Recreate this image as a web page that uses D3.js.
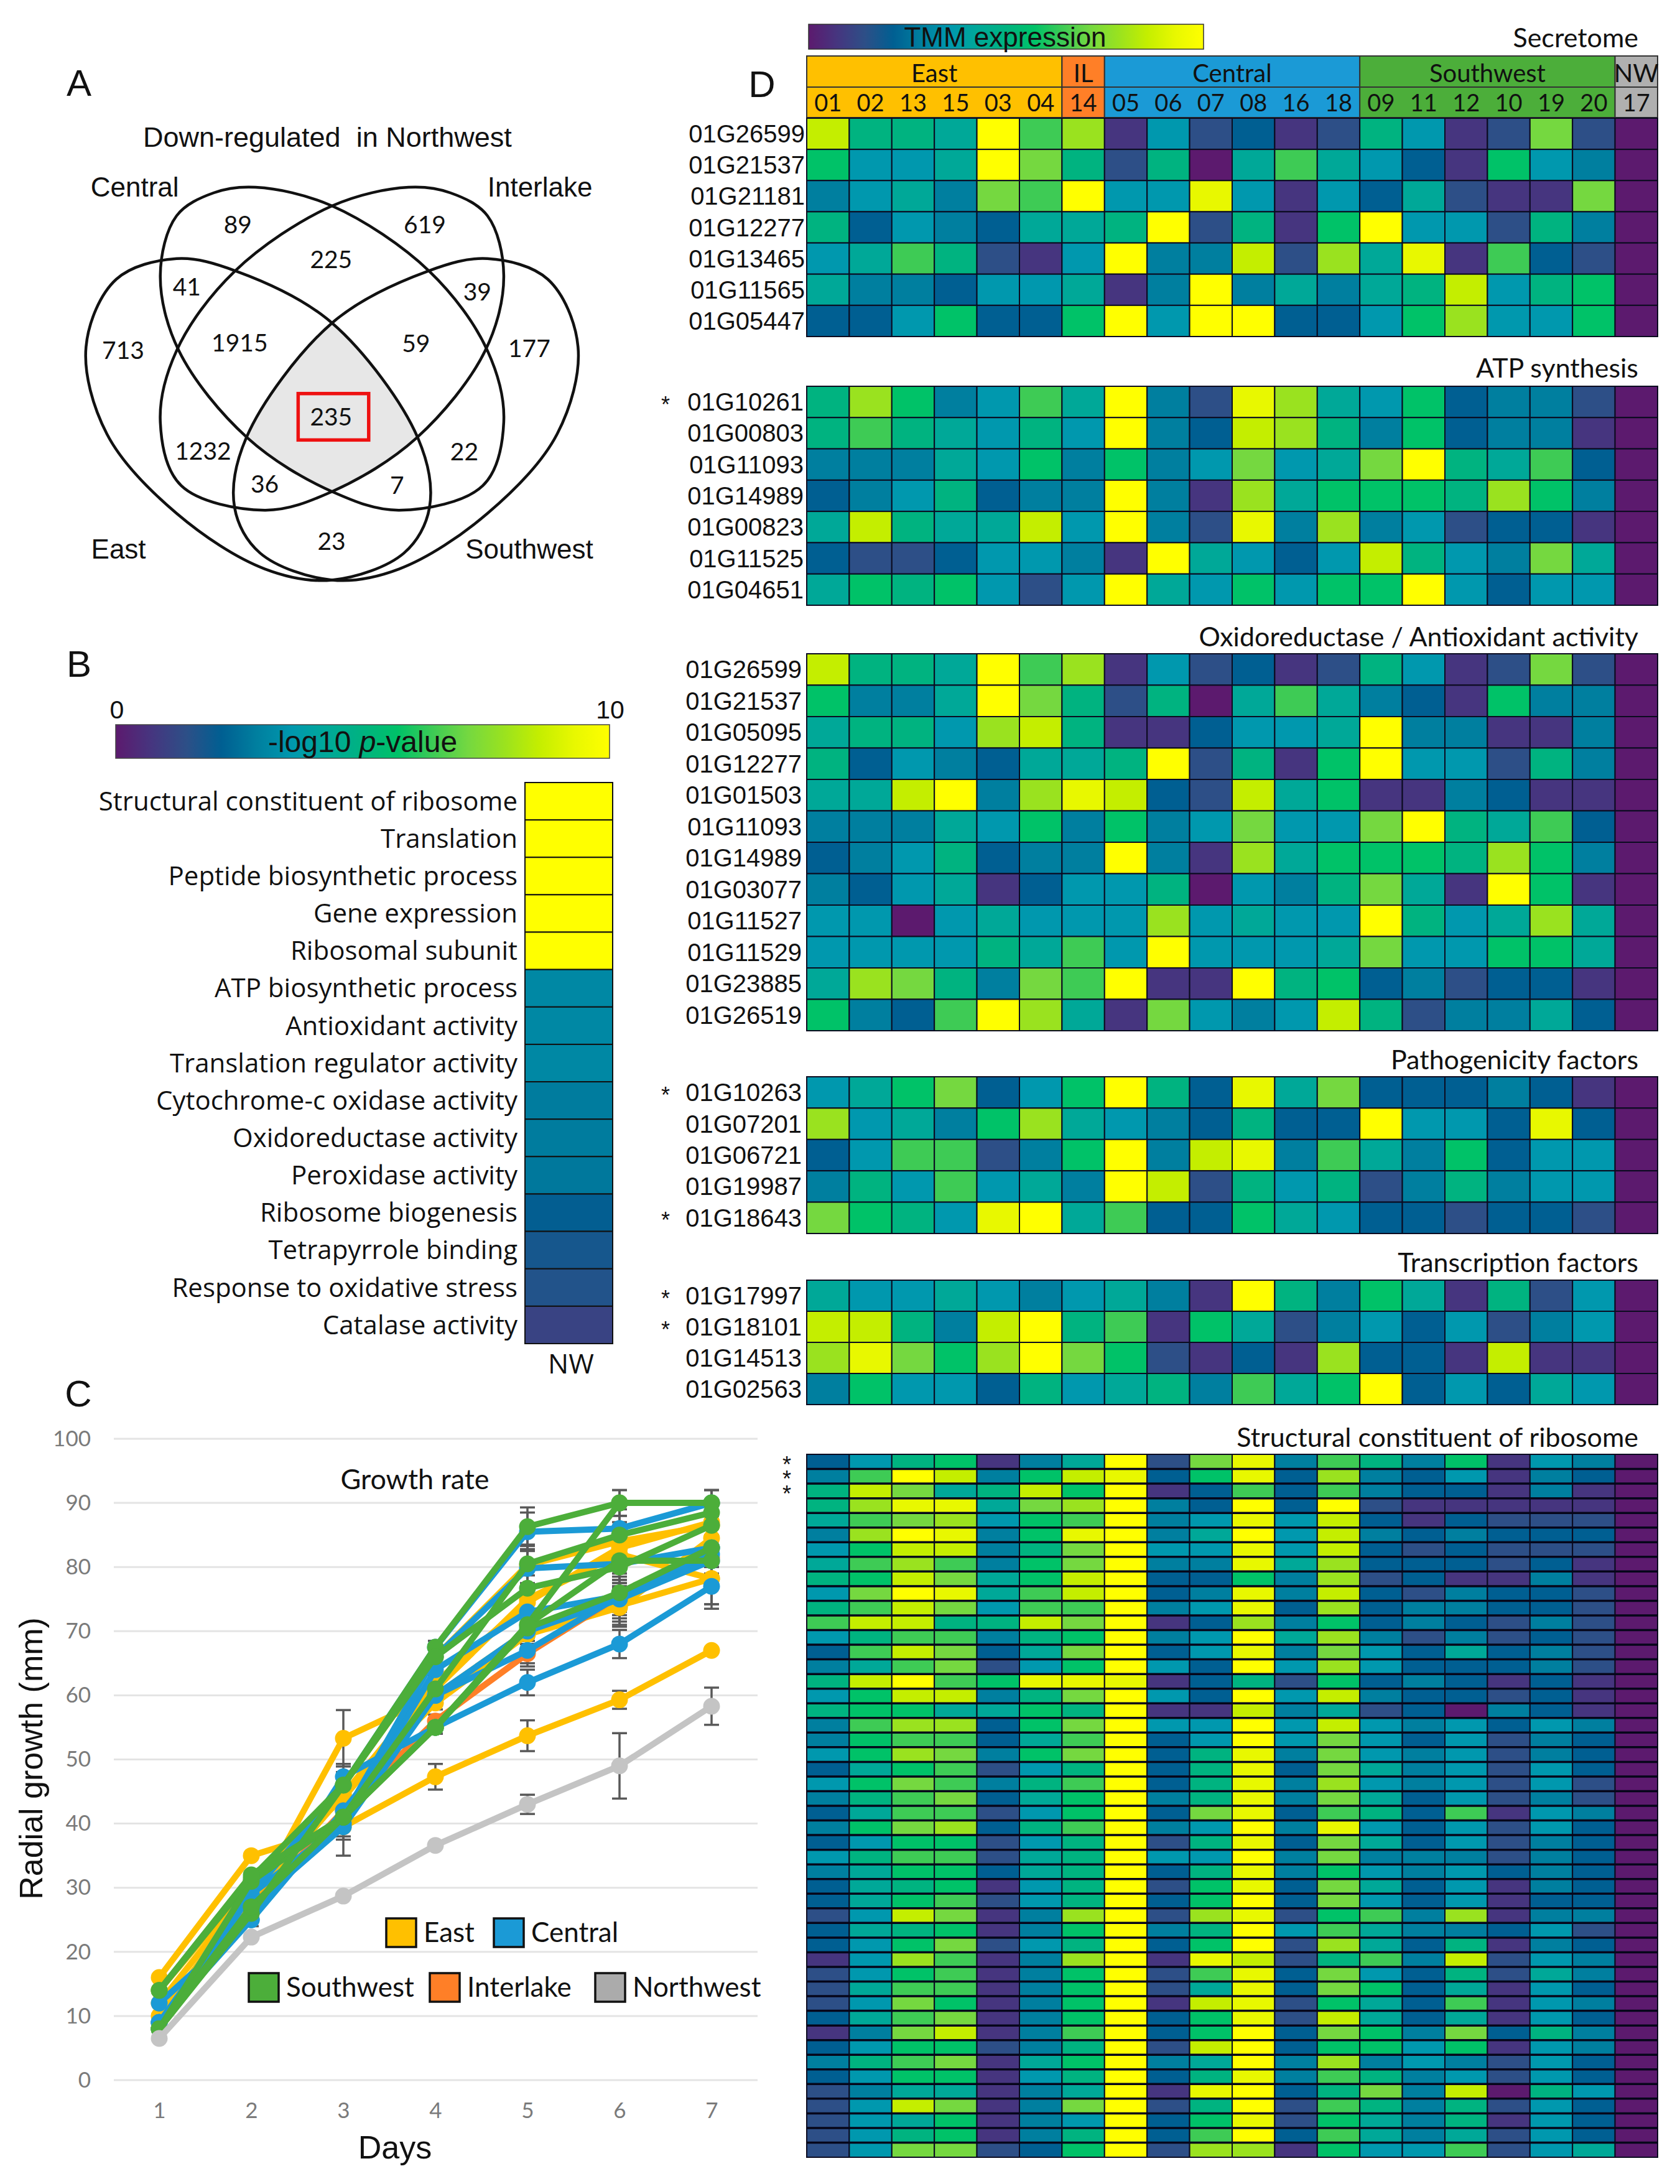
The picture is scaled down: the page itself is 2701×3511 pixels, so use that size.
<!DOCTYPE html>
<html>
<head>
<meta charset="utf-8">
<script src="https://cdn.jsdelivr.net/npm/d3@7"></script>
<style>
body { margin: 0; background: #fff; }
text { fill: #111; }
</style>
</head>
<body>
<svg id="fig" width="2701" height="3511"></svg>
<script>
// panel A
const vennCounts = ["89","619","225","41","39","1915","59","713","177","235","1232","22","36","7","23"];
const vennSets = ["Central","Interlake","East","Southwest"];

// panel B, -log10 p-value
const goTerms = ["Structural constituent of ribosome","Translation","Peptide biosynthetic process","Gene expression","Ribosomal subunit","ATP biosynthetic process","Antioxidant activity","Translation regulator activity","Cytochrome-c oxidase activity","Oxidoreductase activity","Peroxidase activity","Ribosome biogenesis","Tetrapyrrole binding","Response to oxidative stress","Catalase activity"];
const goPvalues = [10,10,10,10,10,3.1,3.1,3.1,2.8,2.8,2.7,2.1,1.8,1.6,1.1];

// panel C
const days = [1,2,3,4,5,6,7];
const yTicks = [0,10,20,30,40,50,60,70,80,90,100];
const east = [
  [16,35,39.5,47.3,53.7,59.3,67],
  [8,27,53.3,60,70,74,78.2],
  [9,28,44.5,58.8,69.5,73.7,84.5],
  [10,29,44.5,62,74.5,83,87],
  [12,30,46,66,80.3,84,86.5],
  [14,31,44,61,75,82,78.2]
];
const eastErr = [
  [0,0,4.5,2,2.4,1.4,0],
  [0,0,4.4,1,2,3,4],
  [0,0,2,1,2,3,4],
  [0,0,2,1,2,2,3],
  [0,0,2,1,3,3,2],
  [0,0,2,1,2,3,4]
];
const interlake = [[9,27,42,56,66.5,75.5,81.5]];
const interlakeErr = [[0,0,2,1,2,2,3]];
const central = [
  [12,25,47.3,55,62,68,77],
  [9,29,40,64,73,75.5,83],
  [9,27,39.5,60,67,75.5,82],
  [8,29,46,67.5,85.5,86,90],
  [8,31,41,66,79.8,80.5,83],
  [9,25,42,60,70,75,81]
];
const centralErr = [
  [0,1,2,1,2,2.2,3.5],
  [0,0,2,1,2,4,3],
  [0,0,2,1,2,3,3],
  [0,0,2,1,3,3,2],
  [0,0,2,1,3,3,3],
  [0,0,2,1,2,3,3]
];
const southwest = [
  [14,31.5,46,67.5,86.3,90,90],
  [8,31,41,61,80.5,85,88.5],
  [8,27,41,55,71,90,90],
  [14,32,41,55,71,81,81],
  [8,26,46,66,76.7,80,86.5],
  [8,27,41,55,70.5,76,83]
];
const southwestErr = [
  [0,0,2,1,3,2,2],
  [0,0,2,1,3,3,2],
  [0,0,2,1,2,2,2],
  [0,0,2,1,2,3,3],
  [0,0,2,1,2,3,3],
  [0,0,2,1,2,3,3]
];
const northwest = [[6.5,22.3,28.7,36.6,43,49,58.3]];
const northwestErr = [[0,0,0,0,1.5,5.1,2.9]];

// panel D, expression level 0 (lowest) to 14 (highest)
const strainIds = ["01","02","13","15","03","04","14","05","06","07","08","16","18","09","11","12","10","19","20","17"];
const regions = ["East","IL","Central","Southwest","NW"];
const regionSizes = [6,1,6,6,1];

const secretomeGenes = ["01G26599","01G21537","01G21181","01G12277","01G13465","01G11565","01G05447"];
const secretome = [
  [12,7,7,6,14,9,11,1,5,2,3,1,2,7,5,1,2,10,2,0],
  [8,5,5,6,14,10,7,2,7,0,6,9,6,5,3,1,8,5,4,0],
  [4,5,6,4,10,9,14,5,5,13,5,1,5,3,6,2,1,1,10,0],
  [7,3,5,4,3,6,6,7,14,2,7,1,8,14,5,5,2,7,4,0],
  [5,6,9,7,2,1,5,14,4,4,12,2,11,6,13,1,9,3,2,0],
  [6,4,4,3,5,5,6,1,4,14,4,6,4,6,7,12,5,7,8,0],
  [3,3,5,8,3,3,8,14,5,14,14,3,3,5,8,11,5,5,8,0]
];
const atpGenes = ["01G10261","01G00803","01G11093","01G14989","01G00823","01G11525","01G04651"];
const atp = [
  [7,11,8,4,5,9,6,14,4,2,13,11,6,5,8,3,4,4,2,0],
  [7,9,7,6,5,7,5,14,4,3,12,11,7,4,8,3,4,4,1,0],
  [4,4,4,6,5,8,4,8,4,5,10,5,6,10,14,7,6,9,3,0],
  [3,4,5,7,3,4,4,14,4,1,11,6,8,8,8,7,11,8,4,0],
  [6,12,7,6,6,12,5,14,4,2,13,4,11,4,5,2,3,3,1,0],
  [3,2,2,3,5,5,4,1,14,6,5,3,5,12,7,5,4,10,6,0],
  [6,8,7,8,5,2,5,14,6,5,8,5,8,8,14,5,3,5,5,0]
];
const oxidoGenes = ["01G26599","01G21537","01G05095","01G12277","01G01503","01G11093","01G14989","01G03077","01G11527","01G11529","01G23885","01G26519"];
const oxido = [
  [12,7,7,6,14,9,11,1,5,2,3,1,2,7,5,1,2,10,2,0],
  [8,4,4,6,14,10,7,2,7,0,6,9,6,4,3,1,8,4,4,0],
  [6,7,7,5,11,12,7,1,1,3,5,5,6,14,4,4,1,1,4,0],
  [7,3,5,4,3,6,6,7,14,2,7,1,8,14,5,5,2,7,4,0],
  [6,6,12,14,4,11,13,12,3,2,12,6,8,1,1,4,3,1,1,0],
  [4,4,4,6,5,8,4,8,4,5,10,5,5,10,14,7,6,9,3,0],
  [3,4,5,7,3,4,4,14,4,1,11,6,8,8,8,7,11,8,4,0],
  [4,3,5,6,1,3,5,5,7,0,5,4,7,10,6,1,14,8,1,0],
  [5,5,0,5,6,5,5,5,11,5,6,5,5,14,7,5,6,11,6,0],
  [5,5,5,5,7,6,9,5,14,5,5,5,6,10,5,5,8,8,6,0],
  [6,11,10,7,4,10,9,14,1,1,14,7,8,3,4,2,3,3,1,0],
  [8,4,3,9,14,11,6,1,10,5,4,5,12,7,2,4,4,6,3,0]
];
const pathoGenes = ["01G10263","01G07201","01G06721","01G19987","01G18643"];
const patho = [
  [5,6,8,10,3,5,8,14,7,3,13,6,10,3,3,3,4,3,1,0],
  [11,5,6,4,8,11,6,5,4,3,7,3,3,14,5,5,3,13,3,0],
  [3,5,9,9,2,4,8,14,4,12,13,4,9,6,4,8,3,5,5,0],
  [4,7,5,9,5,6,4,14,12,2,7,5,7,2,4,7,4,5,5,0],
  [10,8,7,5,13,14,6,9,3,3,8,6,5,3,3,2,3,3,2,0]
];
const tfGenes = ["01G17997","01G18101","01G14513","01G02563"];
const tf = [
  [6,5,5,6,5,4,5,6,4,1,14,7,4,8,6,1,7,2,5,0],
  [12,12,7,4,12,14,7,9,1,8,6,2,4,5,3,5,2,4,5,0],
  [11,13,10,8,11,14,10,8,2,1,3,1,11,3,3,1,12,1,1,0],
  [4,8,5,5,3,7,5,6,7,4,9,6,8,14,3,5,3,6,5,0]
];
const starredGenes = ["01G10261","01G10263","01G18643","01G17997","01G18101"];
const ribosome = [
  [3,5,7,8,1,4,6,14,2,10,13,4,9,7,4,8,1,5,4,0],
  [4,9,14,12,4,8,12,13,3,8,13,3,11,4,3,5,1,4,3,0],
  [7,12,10,6,7,12,8,14,1,3,9,3,9,4,3,3,1,4,1,0],
  [7,11,13,13,6,10,11,14,4,3,14,3,14,2,1,1,1,1,1,0],
  [6,9,10,11,5,8,9,14,4,5,13,5,12,3,1,3,2,2,2,0],
  [4,11,14,13,4,8,13,14,4,6,14,5,12,4,3,4,3,3,3,0],
  [5,8,12,12,4,7,10,14,5,5,13,5,12,3,2,3,2,2,2,0],
  [6,9,11,9,4,8,10,14,4,4,13,6,11,3,3,3,2,3,1,0],
  [7,8,12,10,6,8,12,14,3,3,8,4,11,2,3,1,1,4,1,0],
  [5,10,14,13,6,9,12,14,3,4,13,4,12,3,2,4,3,3,2,0],
  [7,9,12,10,5,9,9,14,4,5,13,3,11,3,4,4,3,3,2,0],
  [9,12,12,7,7,12,10,14,1,3,11,4,8,3,4,3,2,4,2,0],
  [5,7,9,9,4,7,8,14,4,5,14,6,11,4,2,4,2,3,2,0],
  [3,9,12,10,3,6,10,14,3,5,13,4,10,5,3,6,3,4,2,0],
  [4,6,9,10,2,5,8,14,5,3,14,5,11,5,3,3,3,4,2,0],
  [7,12,14,9,8,13,13,13,1,3,7,2,8,3,4,3,1,3,1,0],
  [5,8,12,12,4,7,10,14,5,3,14,5,12,4,3,3,2,3,1,0],
  [7,8,8,6,6,8,7,14,1,1,12,4,6,2,3,0,4,3,1,0],
  [4,9,11,11,3,8,10,14,5,5,14,5,12,5,4,5,3,5,4,0],
  [4,8,9,9,3,6,9,14,3,5,14,5,10,5,3,5,2,4,3,0],
  [5,8,11,10,4,8,10,14,3,7,13,4,10,5,4,5,2,4,3,0],
  [3,6,8,9,2,5,7,14,3,7,13,3,10,6,4,5,2,5,3,0],
  [5,8,10,9,4,7,9,14,3,7,13,4,11,5,4,5,2,5,2,0],
  [4,7,9,10,3,6,8,14,4,7,13,4,10,6,3,5,2,4,2,0],
  [3,6,9,9,2,5,8,14,3,10,13,3,9,7,3,9,1,5,4,0],
  [4,8,10,11,3,7,9,14,4,5,14,4,13,5,3,5,2,5,3,0],
  [3,5,8,8,2,5,7,14,2,7,13,3,10,6,3,5,2,4,3,0],
  [5,7,9,9,2,6,7,14,5,5,14,4,10,4,4,4,2,4,3,0],
  [4,6,8,8,3,6,7,14,3,7,13,4,8,5,4,5,3,4,3,0],
  [3,6,7,8,1,5,7,14,2,8,13,3,10,6,3,5,1,4,3,0],
  [3,6,8,9,2,5,7,14,3,8,14,3,10,5,3,5,1,3,3,0],
  [2,5,12,10,1,4,11,14,2,11,13,2,8,9,4,11,1,4,4,0],
  [3,6,7,8,1,4,8,14,4,7,14,5,9,6,4,4,3,5,2,0],
  [3,5,8,10,2,5,7,14,3,8,14,2,11,6,3,7,1,4,3,0],
  [1,5,11,9,1,4,11,14,1,13,12,2,7,9,4,12,2,5,4,0],
  [2,5,8,9,1,4,8,14,2,9,13,3,10,5,3,7,2,6,4,0],
  [2,6,9,9,1,4,8,14,2,6,13,3,10,8,3,6,1,5,3,0],
  [2,5,10,8,1,4,8,14,1,12,13,2,8,6,3,9,1,5,4,0],
  [3,6,9,10,1,4,8,14,3,8,13,2,12,6,3,6,1,5,3,0],
  [1,4,10,12,1,4,9,14,3,8,14,3,10,8,4,10,3,7,4,0],
  [3,5,8,8,2,4,7,14,2,12,14,3,8,8,5,8,1,5,4,0],
  [4,7,9,10,1,6,8,14,4,6,14,4,11,4,5,4,2,5,3,0],
  [3,5,8,8,1,5,7,14,3,7,13,4,9,7,4,5,2,5,3,0],
  [2,4,6,6,1,4,6,14,1,13,14,3,7,10,4,12,0,7,5,0],
  [2,5,12,10,1,4,10,14,2,7,14,2,9,7,4,7,2,5,3,0],
  [2,5,6,8,1,4,5,14,3,8,13,2,8,6,4,7,1,5,3,0],
  [2,5,7,8,1,4,7,14,3,9,14,3,9,6,4,6,2,5,3,0],
  [2,5,10,10,2,3,8,14,2,11,11,1,8,5,5,9,2,5,6,0]
];

const levelColors = ["#5c1a6e","#46357f","#2d4f87","#005f92","#007f9f","#0098ae","#00a898","#00b380","#00c268","#3ecb55","#75d840","#9ae21f","#c4ee00","#e8f800","#ffff00"];
const regionColors = {East:"#ffc000", IL:"#ff7f27", Central:"#1b9ad6", Southwest:"#4cae3a", NW:"#b0b0b0"};

const sansFont = "'Liberation Sans', Arial, sans-serif";
const labelFont = "'Open Sans', sans-serif";
const lightFont = "Lato, sans-serif";

const svg = d3.select("#fig");
const level = d3.scaleLinear().domain(d3.range(levelColors.length)).range(levelColors).clamp(true);

const defs = svg.append("defs");
const grad = defs.append("linearGradient").attr("id", "viridis");
grad.selectAll("stop").data(levelColors).join("stop")
    .attr("offset", (d, i) => i / (levelColors.length - 1))
    .attr("stop-color", d => d);

function label(g, x, y, txt, size, font, anchor) {
    return g.append("text")
        .attr("x", x).attr("y", y)
        .attr("dy", "0.35em")
        .attr("text-anchor", anchor || "middle")
        .style("font", `${size}px ${font}`)
        .text(txt);
}

["A","B","C","D"].forEach((p, i) => {
    const pos = [[127,133],[127,1067],[126,2240],[1225,135]][i];
    label(svg, pos[0], pos[1], p, 60, sansFont);
});

//---- A: venn, outlines in crop units mapped through two scales
const vx = d3.scaleLinear().domain([0,1568]).range([60,1230]);
const vy = d3.scaleLinear().domain([0,1568]).range([60,1060]);
const eastShape = [[105,780],[150,1000],[300,1200],[490,1340],[635,1368],[790,1300],[845,1185],[820,1010],[635,720],[430,590],[300,558],[170,610]];
const centralShape = [[470,378],[635,425],[845,590],[970,790],[1005,970],[960,1130],[780,1192],[635,1145],[453,1010],[305,790],[265,600],[300,450],[380,392]];
const mirror = s => s.map(p => [1270 - p[0], p[1]]);
const vennLine = d3.line().x(d => vx(d[0])).y(d => vy(d[1])).curve(d3.curveCatmullRomClosed.alpha(0.5));
const vennShapes = {Central: centralShape, Interlake: mirror(centralShape), East: eastShape, Southwest: mirror(eastShape)};

const venn = svg.append("g");
vennSets.forEach(s => {
    defs.append("clipPath").attr("id", "clip" + s).append("path").attr("d", vennLine(vennShapes[s]));
});
// the all-four region is the nesting of the four clips
let inner = venn;
vennSets.forEach(s => { inner = inner.append("g").attr("clip-path", `url(#clip${s})`); });
inner.append("rect").attr("x", vx(300)).attr("y", vy(600)).attr("width", vx(1000)-vx(300)).attr("height", vy(1300)-vy(600)).attr("fill", "#e7e7e7");
vennSets.forEach(s => {
    venn.append("path").attr("d", vennLine(vennShapes[s])).attr("fill", "none").attr("stroke", "#111").attr("stroke-width", 4.5);
});
const vennCountPos = [[432,473],[835,473],[633,560],[322,630],[948,642],[436,770],[816,772],[185,790],[1060,785],[633,957],[357,1043],[920,1045],[490,1127],[775,1130],[634,1270]];
vennCounts.forEach((c, i) => label(venn, vx(vennCountPos[i][0]), vy(vennCountPos[i][1]), c, 39, lightFont));
venn.append("rect").attr("x", vx(562)).attr("y", vy(898)).attr("width", vx(714)-vx(562)).attr("height", vy(1015)-vy(898))
    .attr("fill", "none").attr("stroke", "#ee1111").attr("stroke-width", 5.5);
const vennNamePos = [[210,378],[1083,378],[175,1290],[1060,1290]];
vennSets.forEach((s, i) => label(venn, vx(vennNamePos[i][0]), vy(vennNamePos[i][1]), s, 44, sansFont));
label(venn, vx(625), vy(252), "Down-regulated  in Northwest", 45, sansFont).style("white-space", "pre");

//---- B
const barB = svg.append("g");
barB.append("rect").attr("x", 186).attr("y", 1165).attr("width", 794).attr("height", 54)
    .attr("fill", "url(#viridis)").attr("stroke", "#444").attr("stroke-width", 1.5);
// three separate pieces so the italic p sits between them
const pParts = ["-log10 ", "p", "-value"];
const pPieces = pParts.map((t, i) => label(barB, 0, 1192, t, 48, sansFont, "start")
    .style("font-style", i === 1 ? "italic" : "normal")
    .style("white-space", "pre"));
const pWidths = pPieces.map(n => n.node().getComputedTextLength());
let pX = 583 - d3.sum(pWidths) / 2;
pPieces.forEach((n, i) => { n.attr("x", pX); pX += pWidths[i]; });
label(barB, 188, 1141, "0", 41, sansFont);
label(barB, 981, 1141, "10", 41, sansFont);

const yB = d3.scaleBand().domain(goTerms).range([1258, 2160]);
barB.selectAll("rect.go").data(goTerms).join("rect").attr("class", "go")
    .attr("x", 844).attr("width", 141)
    .attr("y", d => yB(d)).attr("height", yB.bandwidth())
    .attr("fill", (d, i) => level(goPvalues[i] * 1.4))
    .attr("stroke", "#111").attr("stroke-width", 2);
goTerms.forEach(t => label(barB, 832, yB(t) + yB.bandwidth() / 2, t, 42, labelFont, "end"));
label(barB, 918, 2193, "NW", 44, labelFont);

//---- C
const xC = d3.scalePoint().domain(days).range([256, 1144]);
const yC = d3.scaleLinear().domain([0, 100]).range([3344, 2313]);
const chart = svg.append("g");
chart.append("g").selectAll("line").data(yTicks).join("line")
    .attr("x1", 183).attr("x2", 1218)
    .attr("y1", d => yC(d)).attr("y2", d => yC(d))
    .attr("stroke", "#e4e4e4").attr("stroke-width", 3);

const yAxisC = chart.append("g").attr("transform", "translate(146,0)")
    .call(d3.axisLeft(yC).tickValues(yTicks).tickSize(0).tickPadding(0));
const xAxisC = chart.append("g").attr("transform", "translate(0,3380)")
    .call(d3.axisBottom(xC).tickSize(0).tickPadding(0));
[yAxisC, xAxisC].forEach(a => {
    a.select(".domain").remove();
    a.selectAll("text").style("font", `35px ${lightFont}`).style("fill", "#7a7a7a");
});

const chartSeries = [
    {color: regionColors.East, rows: east, err: eastErr},
    {color: regionColors.IL, rows: interlake, err: interlakeErr},
    {color: regionColors.Central, rows: central, err: centralErr},
    {color: regionColors.Southwest, rows: southwest, err: southwestErr},
    {color: "#c4c4c4", rows: northwest, err: northwestErr}
];
const lineC = d3.line().x((d, i) => xC(days[i])).y(d => yC(d));

// error bars go under everything
chartSeries.forEach(s => s.rows.forEach((row, r) => {
    const g = chart.append("g").attr("stroke", "#595959").attr("stroke-width", 3.5);
    row.forEach((v, i) => {
        const e = s.err[r][i];
        if (!e) return;
        g.append("line").attr("x1", xC(days[i])).attr("x2", xC(days[i])).attr("y1", yC(v - e)).attr("y2", yC(v + e));
        [v - e, v + e].forEach(c => g.append("line")
            .attr("x1", xC(days[i]) - 12).attr("x2", xC(days[i]) + 12)
            .attr("y1", yC(c)).attr("y2", yC(c)));
    });
}));
chartSeries.forEach(s => s.rows.forEach(row => {
    chart.append("path").attr("d", lineC(row)).attr("fill", "none")
        .attr("stroke", s.color).attr("stroke-width", 10).attr("stroke-linejoin", "round");
    chart.append("g").selectAll("circle").data(row).join("circle")
        .attr("cx", (d, i) => xC(days[i])).attr("cy", d => yC(d)).attr("r", 13.5)
        .attr("fill", s.color);
}));

label(chart, 667, 2378, "Growth rate", 45, lightFont);
label(chart, 635, 3452, "Days", 52, sansFont);
label(chart, 0, 0, "Radial growth (mm)", 52, sansFont).attr("transform", "translate(50,2827) rotate(-90)");

const legendItems = ["East","Central","Southwest","Interlake","Northwest"];
const legendFill = [regionColors.East, regionColors.Central, regionColors.Southwest, regionColors.IL, "#ababab"];
const legendX = [621,794,400,691,957];
const legendY = [3084,3084,3172,3172,3172];
legendItems.forEach((n, i) => {
    chart.append("rect").attr("x", legendX[i]).attr("y", legendY[i]).attr("width", 48).attr("height", 46)
        .attr("fill", legendFill[i]).attr("stroke", "#111").attr("stroke-width", 3.5);
    label(chart, legendX[i] + 60, legendY[i] + 23, n, 44, lightFont, "start");
});

//---- D
const xD = d3.scaleBand().domain(strainIds).range([1297, 2665]);
const heat = svg.append("g");

// TMM colour bar
heat.append("rect").attr("x", 1300).attr("y", 39).attr("width", 635).attr("height", 40)
    .attr("fill", "url(#viridis)").attr("stroke", "#333").attr("stroke-width", 1.5);
label(heat, 1616, 60, "TMM expression", 44, sansFont);

// header rows
let start = 0;
regions.forEach((r, i) => {
    const ids = strainIds.slice(start, start + regionSizes[i]);
    start += regionSizes[i];
    const x0 = xD(ids[0]);
    const w = xD.bandwidth() * ids.length;
    heat.append("rect").attr("x", x0).attr("y", 90).attr("width", w).attr("height", 50)
        .attr("fill", regionColors[r]).attr("stroke", "#333").attr("stroke-width", 2);
    heat.append("rect").attr("x", x0).attr("y", 140).attr("width", w).attr("height", 49)
        .attr("fill", regionColors[r]).attr("stroke", "#333").attr("stroke-width", 2);
    label(heat, x0 + w / 2, 118, r, 40, lightFont);
    ids.forEach(id => label(heat, xD(id) + xD.bandwidth() / 2, 166, id, 38, lightFont));
});

function heatBlock(rows, genes, top, bottom, title, titleY, labelX) {
    const keys = d3.range(rows.length);
    const y = d3.scaleBand().domain(keys).range([top, bottom]);
    const g = heat.append("g");
    g.selectAll("g").data(rows).join("g")
        .attr("transform", (d, i) => `translate(0,${y(i)})`)
        .selectAll("rect").data(d => d).join("rect")
            .attr("x", (d, i) => xD(strainIds[i]))
            .attr("width", xD.bandwidth())
            .attr("height", y.bandwidth())
            .attr("fill", d => level(d))
            .attr("stroke", "#0b0b20")
            .attr("stroke-width", 2);
    if (genes) genes.forEach((n, i) => {
        label(g, labelX, y(i) + y.bandwidth() / 2, n, 40, sansFont, "end");
        if (starredGenes.includes(n)) label(g, 1070, y(i) + y.bandwidth() / 2 + 4, "*", 36, sansFont);
    });
    label(g, 2634, titleY, title, 43, lightFont, "end");
    return y;
}

heatBlock(secretome, secretomeGenes, 190, 541, "Secretome", 61, 1294);
heatBlock(atp, atpGenes, 621, 973, "ATP synthesis", 592, 1292);
heatBlock(oxido, oxidoGenes, 1051, 1657, "Oxidoreductase / Antioxidant activity", 1024, 1289);
heatBlock(patho, pathoGenes, 1731, 1983, "Pathogenicity factors", 1704, 1289);
heatBlock(tf, tfGenes, 2058, 2258, "Transcription factors", 2030, 1289);
const yRibo = heatBlock(ribosome, null, 2338, 3468, "Structural constituent of ribosome", 2311);
// the thin ribosome rows have heavier dark rules between them
heat.append("g").selectAll("line").data(d3.range(1, ribosome.length)).join("line")
    .attr("x1", 1297).attr("x2", 2665)
    .attr("y1", d => yRibo(d)).attr("y2", d => yRibo(d))
    .attr("stroke", "#06061a").attr("stroke-width", 3.5);
// three stars stacked closer than their line height, so one text with a tspan each
const riboStars = heat.append("text").attr("text-anchor", "middle").style("font", `36px ${sansFont}`);
[0,1,2].forEach(i => riboStars.append("tspan")
    .attr("x", 1265)
    .attr("y", yRibo(i) + yRibo.bandwidth() / 2 + 17)
    .text("*"));
</script>
</body>
</html>
